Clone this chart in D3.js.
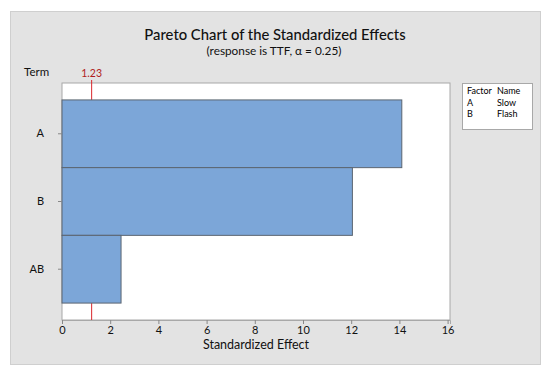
<!DOCTYPE html>
<html>
<head>
<meta charset="utf-8">
<script src="https://cdn.jsdelivr.net/npm/d3@7"></script>
<style>
  body { margin: 0; background: #fff; }
  text { font-family: Lato, "Noto Sans", sans-serif; }
</style>
</head>
<body>
<div id="chart"></div>
<script>
// data
const terms = ["A", "B", "AB"];
const effects = [14.1, 12.05, 2.45];
const critical = 1.23;
const xTicks = [0, 2, 4, 6, 8, 10, 12, 14, 16];
const legendFactors = ["A", "B"];
const legendNames = ["Slow", "Flash"];

const W = 550, H = 375;
const plot = { left: 62, right: 450, top: 83, bottom: 320 };

const svg = d3.select("#chart").append("svg")
  .attr("width", W).attr("height", H);

// outer panel
svg.append("rect")
  .attr("x", 10.5).attr("y", 11.5)
  .attr("width", 530).attr("height", 353)
  .attr("fill", "#e3e3e3").attr("stroke", "#cfcfcf");

// titles
svg.append("text")
  .attr("x", 275).attr("y", 40)
  .attr("text-anchor", "middle")
  .attr("font-size", 14.8).attr("font-weight", 500)
  .attr("fill", "#111")
  .text("Pareto Chart of the Standardized Effects");
svg.append("text")
  .attr("x", 274).attr("y", 55)
  .attr("text-anchor", "middle")
  .attr("font-size", 11.8)
  .attr("fill", "#111")
  .text("(response is TTF, \u03b1 = 0.25)");

const x = d3.scaleLinear().domain([0, 16.1]).range([plot.left, plot.right]);
const y = d3.scaleBand().domain(terms).range([plot.top, plot.bottom])
  .paddingInner(0).paddingOuter(0.25);

// plot area
svg.append("rect")
  .attr("x", plot.left).attr("y", plot.top)
  .attr("width", plot.right - plot.left).attr("height", plot.bottom - plot.top)
  .attr("fill", "#fff").attr("stroke", "#a8a8a8");

// reference line (behind the bars)
svg.append("line")
  .attr("x1", x(critical)).attr("x2", x(critical))
  .attr("y1", plot.top - 3).attr("y2", plot.bottom)
  .attr("stroke", "#d9262b").attr("stroke-width", 1);
svg.append("text")
  .attr("x", x(critical)).attr("y", 77)
  .attr("text-anchor", "middle")
  .attr("font-size", 10.5).attr("fill", "#b01c20")
  .text(critical.toFixed(2));

// bars
svg.append("g").selectAll("rect")
  .data(terms)
  .join("rect")
  .attr("x", x(0))
  .attr("y", d => y(d))
  .attr("width", (d, i) => x(effects[i]) - x(0))
  .attr("height", y.bandwidth())
  .attr("fill", "#7ca6d8")
  .attr("stroke", "#5b6570")
  .attr("stroke-width", 1);

// x axis
const xAxis = svg.append("g")
  .attr("transform", `translate(0,${plot.bottom})`)
  .call(d3.axisBottom(x).tickValues(xTicks).tickSize(4).tickPadding(2));
xAxis.select(".domain").attr("stroke", "#a8a8a8");
xAxis.selectAll(".tick line").attr("stroke", "#888");
xAxis.selectAll("text").attr("font-size", 11).attr("fill", "#111")
  .style("font-family", "Lato, 'Noto Sans', sans-serif");

// y axis
const yAxis = svg.append("g")
  .attr("transform", `translate(${plot.left},0)`)
  .call(d3.axisLeft(y).tickSize(4).tickPadding(14));
yAxis.select(".domain").remove();
yAxis.selectAll(".tick line").attr("stroke", "#888");
yAxis.selectAll("text").attr("font-size", 11).attr("fill", "#111")
  .style("font-family", "Lato, 'Noto Sans', sans-serif");

// axis titles
svg.append("text")
  .attr("x", 256).attr("y", 349)
  .attr("text-anchor", "middle")
  .attr("font-size", 12.5).attr("fill", "#111")
  .text("Standardized Effect");
svg.append("text")
  .attr("x", 24).attr("y", 76)
  .attr("font-size", 11.5).attr("fill", "#111")
  .text("Term");

// legend table
const lg = svg.append("g").attr("transform", "translate(462,83)");
lg.append("rect")
  .attr("x", 0.5).attr("y", 0.5).attr("width", 70).attr("height", 46)
  .attr("fill", "#fff").attr("stroke", "#a8a8a8");
lg.append("text").attr("x", 5).attr("y", 11).attr("font-size", 9).text("Factor");
lg.append("text").attr("x", 35).attr("y", 11).attr("font-size", 9).text("Name");
lg.selectAll(".f").data(legendFactors).join("text")
  .attr("class", "f")
  .attr("x", 5).attr("y", (d, i) => 22.5 + i * 11.5)
  .attr("font-size", 9).text(d => d);
lg.selectAll(".n").data(legendNames).join("text")
  .attr("class", "n")
  .attr("x", 35).attr("y", (d, i) => 22.5 + i * 11.5)
  .attr("font-size", 9).text(d => d);
</script>
</body>
</html>
